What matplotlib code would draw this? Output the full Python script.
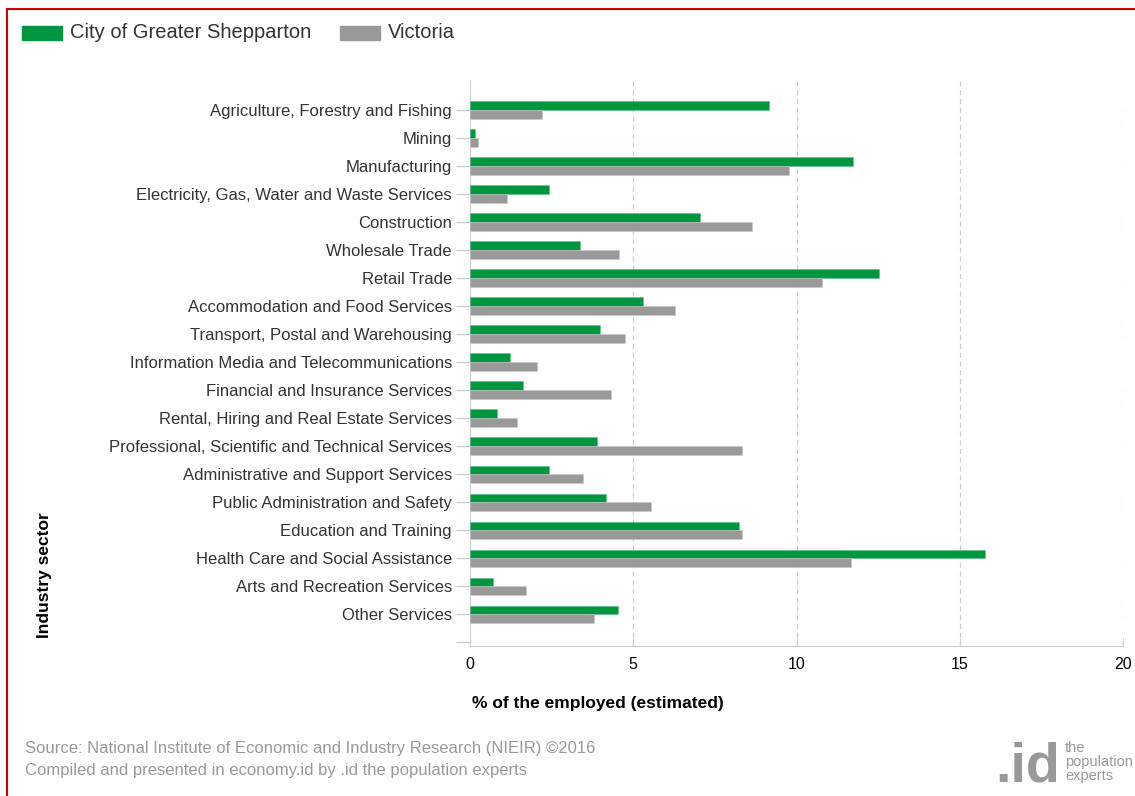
import numpy as np
import matplotlib
matplotlib.use("Agg")
import matplotlib.pyplot as plt
from matplotlib.patches import Rectangle

plt.rcParams['font.family'] = ['Liberation Sans', 'DejaVu Sans']

sectors = [
    "Agriculture, Forestry and Fishing",
    "Mining",
    "Manufacturing",
    "Electricity, Gas, Water and Waste Services",
    "Construction",
    "Wholesale Trade",
    "Retail Trade",
    "Accommodation and Food Services",
    "Transport, Postal and Warehousing",
    "Information Media and Telecommunications",
    "Financial and Insurance Services",
    "Rental, Hiring and Real Estate Services",
    "Professional, Scientific and Technical Services",
    "Administrative and Support Services",
    "Public Administration and Safety",
    "Education and Training",
    "Health Care and Social Assistance",
    "Arts and Recreation Services",
    "Other Services",
]
shepparton = [9.16, 0.15, 11.73, 2.42, 7.04, 3.37, 12.53, 5.30, 3.98, 1.23,
              1.62, 0.83, 3.89, 2.42, 4.17, 8.24, 15.77, 0.70, 4.53]
victoria = [2.20, 0.25, 9.77, 1.13, 8.64, 4.56, 10.78, 6.28, 4.75, 2.05,
            4.32, 1.44, 8.33, 3.46, 5.54, 8.33, 11.67, 1.72, 3.80]
xticks = [0, 5, 10, 15, 20]

green = '#009640'
grey = '#999999'

fig = plt.figure(figsize=(11.35, 7.96), dpi=100)
ax = fig.add_axes([470 / 1135, 1 - 646 / 796, 653 / 1135, 566 / 796])

y = np.arange(len(sectors))
h = 0.29
ax.barh(y - 0.16, shepparton, height=h, color=green, edgecolor='#5cc08a', linewidth=0.4, zorder=3)
ax.barh(y + 0.16, victoria, height=h, color=grey, edgecolor='#c8c8c8', linewidth=0.4, zorder=3)

ax.set_xlim(0, 20)
ax.set_ylim(19.14, -1.07)
ax.set_xticks(xticks)
ax.set_xticklabels([str(v) for v in xticks], fontsize=11.5)
ax.set_yticks(list(y) + [19])
ax.set_yticklabels(sectors + [""], fontsize=12, color='#333333')

for v in xticks[1:]:
    ax.axvline(v, color='#cccccc', linestyle=(0, (4, 3)), linewidth=0.9, zorder=1)

for s in ['top', 'right']:
    ax.spines[s].set_visible(False)
ax.spines['left'].set_color('#cccccc')
ax.spines['bottom'].set_color('#cccccc')
ax.tick_params(axis='y', length=10, color='#cccccc', width=1, pad=3)
ax.tick_params(axis='x', direction='in', length=6, color='#cccccc', pad=8)
for t in ax.get_yticklines():
    t.set_linestyle((0, (3, 2)))

ax.set_xlabel("% of the employed (estimated)", fontsize=12.5, fontweight='bold')
ax.xaxis.set_label_coords(0.003, -0.088)
ax.xaxis.label.set_horizontalalignment('left')
fig.text(45 / 1135, 1 - 575 / 796, "Industry sector", rotation=90, fontsize=12.5,
         fontweight='bold', ha='center', va='center')

# legend
fig.patches.append(Rectangle((22 / 1135, 1 - 40 / 796), 40 / 1135, 14 / 796,
                             transform=fig.transFigure, color=green))
fig.text(70 / 1135, 1 - 33 / 796, "City of Greater Shepparton", fontsize=14.5,
         va='center', color='#333333')
fig.patches.append(Rectangle((340 / 1135, 1 - 40 / 796), 40 / 1135, 14 / 796,
                             transform=fig.transFigure, color=grey))
fig.text(388 / 1135, 1 - 33 / 796, "Victoria", fontsize=14.5, va='center', color='#333333')

# source
fig.text(25 / 1135, 1 - 748 / 796, "Source: National Institute of Economic and Industry Research (NIEIR) \u00a92016",
         fontsize=12, color='#999999', va='center')
fig.text(25 / 1135, 1 - 770 / 796, "Compiled and presented in economy.id by .id the population experts",
         fontsize=12, color='#999999', va='center')

# logo
fig.text(1060 / 1135, 1 - 794 / 796, ".id", fontsize=40, fontweight='bold', color='#999999',
         ha='right', va='bottom')
fig.text(1065 / 1135, 1 - 762 / 796, "the\npopulation\nexperts", fontsize=10.5, color='#999999',
         va='center', linespacing=1.0)

# frame
fig.patches.append(Rectangle((7 / 1135, -0.05), 1.2, 1 - 9 / 796 + 0.05,
                             transform=fig.transFigure, fill=False, edgecolor='#cc0000', linewidth=1.5))

fig.savefig("out.png", dpi=100)
